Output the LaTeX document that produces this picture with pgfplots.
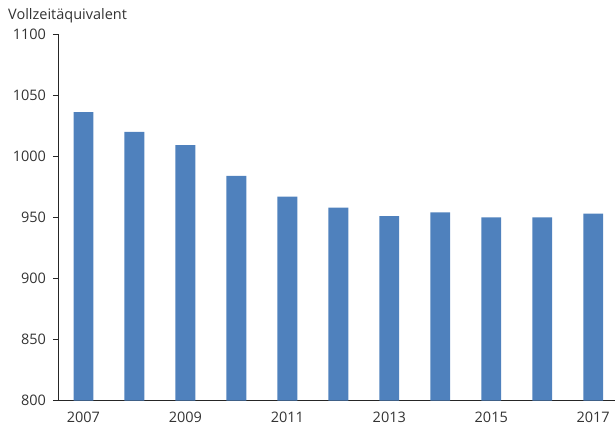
\documentclass[border=0pt]{standalone}
\usepackage{fontspec}
\setmainfont{Open Sans}
\usepackage{pgfplots}
\pgfplotsset{compat=1.18}
\definecolor{barblue}{HTML}{4F81BD}
\definecolor{txt}{HTML}{333333}
\begin{document}
\fontsize{14.5pt}{17pt}\selectfont
\begin{tikzpicture}
\begin{axis}[
  at={(0,0)}, anchor=south west,
  scale only axis,
  width=557pt, height=367pt,
  xmin=-0.5, xmax=10.42,
  ymin=800, ymax=1100,
  axis x line*=bottom, axis y line*=left,
  axis line style={black!85, line width=0.8pt},
  ytick={800,850,...,1100},
  xtick={0,2,4,6,8,10},
  xticklabels={2007,2009,2011,2013,2015,2017},
  major x tick style={draw=none},
  extra x ticks={-0.5,0.5,...,9.5},
  extra x tick labels={},
  extra x tick style={major tick length=5pt, tick align=outside, tick style={black!85, line width=0.8pt}},
  major tick length=5pt,
  tick align=outside,
  tick style={black!85, line width=0.8pt},
  ytick style={black!85, line width=0.8pt},
  tick label style={font=\fontsize{14.5pt}{17pt}\selectfont, text=txt},
  /pgf/number format/assume math mode=true,
  /pgf/number format/1000 sep={},
  yticklabel style={xshift=-2pt},
  xticklabel style={yshift=-1pt},
  clip=false,
]
\addplot[ybar, bar width=0.39, fill=barblue, draw=none] coordinates {
  (0,1036) (1,1020) (2,1009) (3,984) (4,967) (5,958)
  (6,951) (7,954) (8,950) (9,950) (10,953)
};
\end{axis}
\node[anchor=base west, text=txt, inner sep=0pt] at (-50pt,381pt) {Vollzeitäquivalent};
\useasboundingbox (-58pt,-31pt) rectangle (557pt,401pt);
\end{tikzpicture}
\end{document}
